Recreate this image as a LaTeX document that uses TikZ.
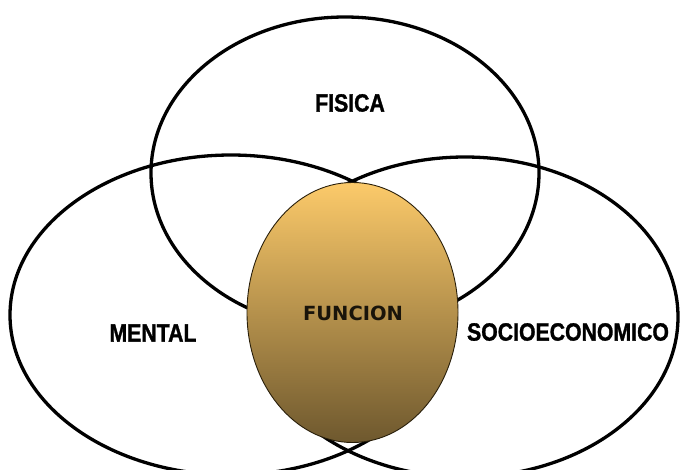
\documentclass[tikz,border=0pt]{standalone}
\usepackage{fontspec}
\usetikzlibrary{shapes.geometric}
\newfontfamily\labfont[FakeStretch=0.85,BoldFeatures={FakeBold=1.2}]{Liberation Sans}
\newfontfamily\funcfont{DejaVu Sans}
\definecolor{goldtop}{RGB}{252,202,106}
\definecolor{goldmid}{RGB}{198,160,86}
\definecolor{goldbot}{RGB}{110,88,46}
\definecolor{rimdark}{RGB}{40,30,10}
\tikzset{
  ring/.style={ellipse, draw=black, line width=3.3pt, inner sep=0pt, fill=none},
  core/.style={ellipse, draw=rimdark, line width=0.9pt, inner sep=0pt,
    top color=goldtop, middle color=goldmid, bottom color=goldbot},
  lab/.style={font=\labfont\bfseries\fontsize{25}{28}\selectfont, inner sep=0pt, text=black},
  corelab/.style={font=\funcfont\bfseries\fontsize{19.5}{22}\selectfont, inner sep=0pt, text={rgb,255:red,25;green,20;blue,10}}
}
\begin{document}
\begin{tikzpicture}[x=1pt,y=-1pt]
\useasboundingbox (0,0) rectangle (680,470);
\node[ring, minimum width=388pt, minimum height=312pt] (fisica) at (345,173) {};
\node[ring, minimum width=442pt, minimum height=320pt] (mental) at (231,315) {};
\node[ring, minimum width=426pt, minimum height=320pt] (socio) at (465,317) {};
\node[core, minimum width=211pt, minimum height=260pt] (funcion) at (352.5,312.5) {};
\node[lab] (tfisica) at (350,103) {FISICA};
\node[lab] (tmental) at (153,333) {MENTAL};
\node[lab] (tsocio) at (568,332) {SOCIOECONOMICO};
\node[corelab] (tfuncion) at (353,313) {FUNCION};
\end{tikzpicture}
\end{document}
